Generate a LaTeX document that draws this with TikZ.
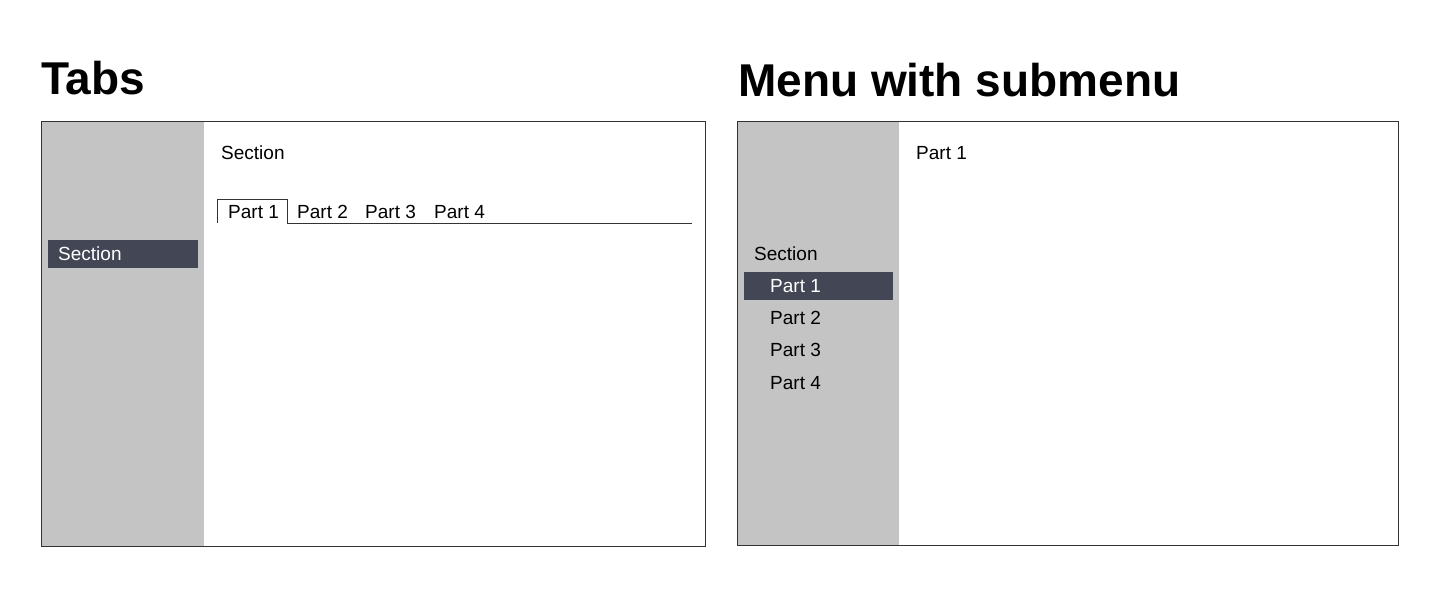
\documentclass[tikz,border=0pt]{standalone}
\usepackage{fontspec}
\setmainfont{Liberation Sans}
\definecolor{side}{HTML}{C4C4C4}
\definecolor{hl}{HTML}{434654}
\tikzset{
  frame/.style={draw=black!80, line width=0.8pt},
  txt/.style={anchor=west, inner sep=0pt, font=\fontsize{19}{19}\selectfont},
  title/.style={anchor=west, inner sep=0pt, font=\fontsize{46}{46}\selectfont\bfseries},
  hlbox/.style={fill=hl, draw=none}
}
\begin{document}
\begin{tikzpicture}[x=1pt,y=-1pt]
\useasboundingbox (0,0) rectangle (1440,599);
% Left panel
\node[title] (t1) at (41,78) {Tabs};
\fill[side] (41,121) rectangle (204,546);
\draw[frame] (41,121) rectangle (705,546);
\fill[hlbox] (48,240) rectangle (198,268);
\node[txt, text=white] (ls) at (58,254) {Section};
\node[txt] (lsec) at (221,153) {Section};
\draw[frame] (217,223) -- (217,199) -- (287,199) -- (287,223) -- (692,223);
\node[txt] (tp1) at (228,212) {Part 1};
\node[txt] (tp2) at (297,212) {Part 2};
\node[txt] (tp3) at (365,212) {Part 3};
\node[txt] (tp4) at (434,212) {Part 4};
% Right panel
\node[title] (t2) at (738,80) {Menu with submenu};
\fill[side] (737,121) rectangle (899,545);
\draw[frame] (737,121) rectangle (1398,545);
\node[txt] (rp) at (916,153) {Part 1};
\node[txt] (rs) at (754,254) {Section};
\fill[hlbox] (744,272) rectangle (893,300);
\node[txt, text=white] (m1) at (770,286) {Part 1};
\node[txt] (m2) at (770,318) {Part 2};
\node[txt] (m3) at (770,350) {Part 3};
\node[txt] (m4) at (770,383) {Part 4};
\end{tikzpicture}
\end{document}
